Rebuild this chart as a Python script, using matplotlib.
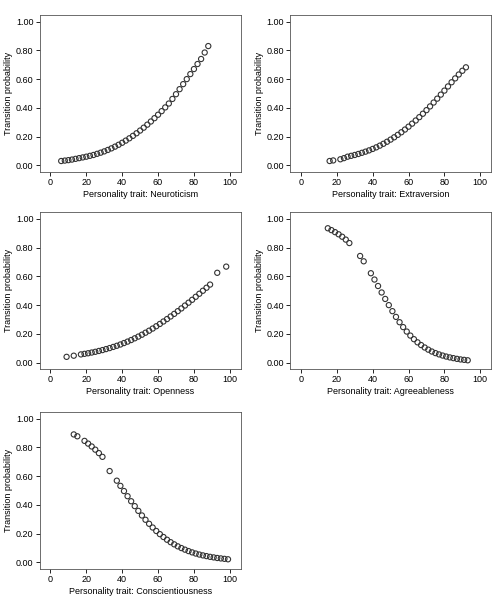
import matplotlib.pyplot as plt

# Neuroticism
neu_x = list(range(6, 90, 2))
neu_y = [0.030, 0.033, 0.036, 0.040, 0.045, 0.050, 0.055, 0.060, 0.066, 0.072, 0.080,
         0.088, 0.097, 0.107, 0.118, 0.130, 0.143, 0.157, 0.172, 0.188, 0.205, 0.223,
         0.242, 0.262, 0.283, 0.305, 0.328, 0.352, 0.377, 0.403, 0.430, 0.458, 0.487,
         0.516, 0.546, 0.576, 0.700, 0.725, 0.750, 0.775, 0.800, 0.830]
neu_y[36:36] = []
neu_y = neu_y[:36] + [0.700, 0.725, 0.750, 0.775, 0.800, 0.830]
neu_y[30:36] = [0.430, 0.462, 0.495, 0.530, 0.565, 0.600]
neu_y[36:] = [0.632, 0.665, 0.700, 0.735, 0.770, 0.830][:0] + [0.635, 0.670, 0.705, 0.740, 0.785, 0.830]

# Extraversion
ext_x = [16, 18] + list(range(22, 94, 2))
ext_y = [0.030, 0.034, 0.042, 0.050, 0.060, 0.066, 0.072, 0.079, 0.087,
         0.095, 0.104, 0.114, 0.125, 0.137, 0.150, 0.164, 0.179, 0.195, 0.212, 0.230,
         0.249, 0.269, 0.290, 0.312, 0.335, 0.359, 0.384, 0.410, 0.437, 0.464, 0.492,
         0.520, 0.549, 0.578, 0.605, 0.632, 0.658, 0.682]

# Openness
ope_x = [9, 13] + list(range(17, 91, 2)) + [93, 98]
ope_y = [0.040, 0.048, 0.057, 0.061, 0.065, 0.070, 0.075, 0.081, 0.087, 0.094, 0.101,
         0.109, 0.117, 0.126, 0.136, 0.146, 0.157, 0.169, 0.181, 0.194, 0.208, 0.222,
         0.237, 0.253, 0.269, 0.286, 0.303, 0.321, 0.339, 0.358, 0.377, 0.397, 0.417,
         0.437, 0.458, 0.479, 0.500, 0.521, 0.543, 0.625, 0.668]

# Agreeableness
agr_x = [15, 17, 19, 21, 23, 25, 27, 33, 35, 39, 41] + list(range(43, 95, 2))
agr_y = [0.935, 0.922, 0.908, 0.893, 0.876, 0.856, 0.832, 0.742, 0.705, 0.622, 0.578,
         0.533, 0.488, 0.443, 0.400, 0.358, 0.318, 0.281, 0.247, 0.216, 0.188, 0.163,
         0.141, 0.122, 0.105, 0.090, 0.077, 0.066, 0.057, 0.049, 0.042, 0.036, 0.031,
         0.026, 0.022, 0.019, 0.016]

# Conscientiousness
con_x = [13, 15, 19, 21, 23, 25, 27, 29, 33, 37] + list(range(39, 101, 2))
con_y = [0.890, 0.877, 0.845, 0.826, 0.806, 0.784, 0.760, 0.734, 0.635, 0.568, 0.532,
         0.496, 0.460, 0.425, 0.391, 0.358, 0.326, 0.296, 0.268, 0.242, 0.218, 0.196,
         0.176, 0.157, 0.140, 0.125, 0.111, 0.099, 0.088, 0.078, 0.069, 0.061, 0.054,
         0.048, 0.043, 0.038, 0.034, 0.030, 0.027, 0.024, 0.021]

panels = [
    (neu_x, neu_y, "Neuroticism", [0.08, 0.717]),
    (ext_x, ext_y, "Extraversion", [0.585, 0.717]),
    (ope_x, ope_y, "Openness", [0.08, 0.392]),
    (agr_x, agr_y, "Agreeableness", [0.585, 0.392]),
    (con_x, con_y, "Conscientiousness", [0.08, 0.063]),
]

fig = plt.figure(figsize=(4.96, 6.07), dpi=100)
plt.rcParams['font.family'] = 'Liberation Sans'

for x, y, name, (l, b) in panels:
    ax = fig.add_axes([l, b, 0.405, 0.258])
    ax.scatter(x, y, s=14, facecolors='none', edgecolors='#333333', linewidths=0.8)
    ax.set_xlim(-6, 106)
    ax.set_ylim(-0.045, 1.045)
    ax.set_xticks([0, 20, 40, 60, 80, 100])
    ax.set_yticks([0, 0.2, 0.4, 0.6, 0.8, 1.0])
    ax.set_yticklabels(["0.00", "0.20", "0.40", "0.60", "0.80", "1.00"])
    ax.tick_params(labelsize=6.5, length=3, width=0.6, pad=1.5)
    ax.set_xlabel("Personality trait: " + name, fontsize=6.5, labelpad=2)
    ax.set_ylabel("Transition probability", fontsize=6.5, labelpad=2)
    for s in ax.spines.values():
        s.set_linewidth(0.6)
        s.set_color('#555555')

fig.savefig("out.png", dpi=100)
